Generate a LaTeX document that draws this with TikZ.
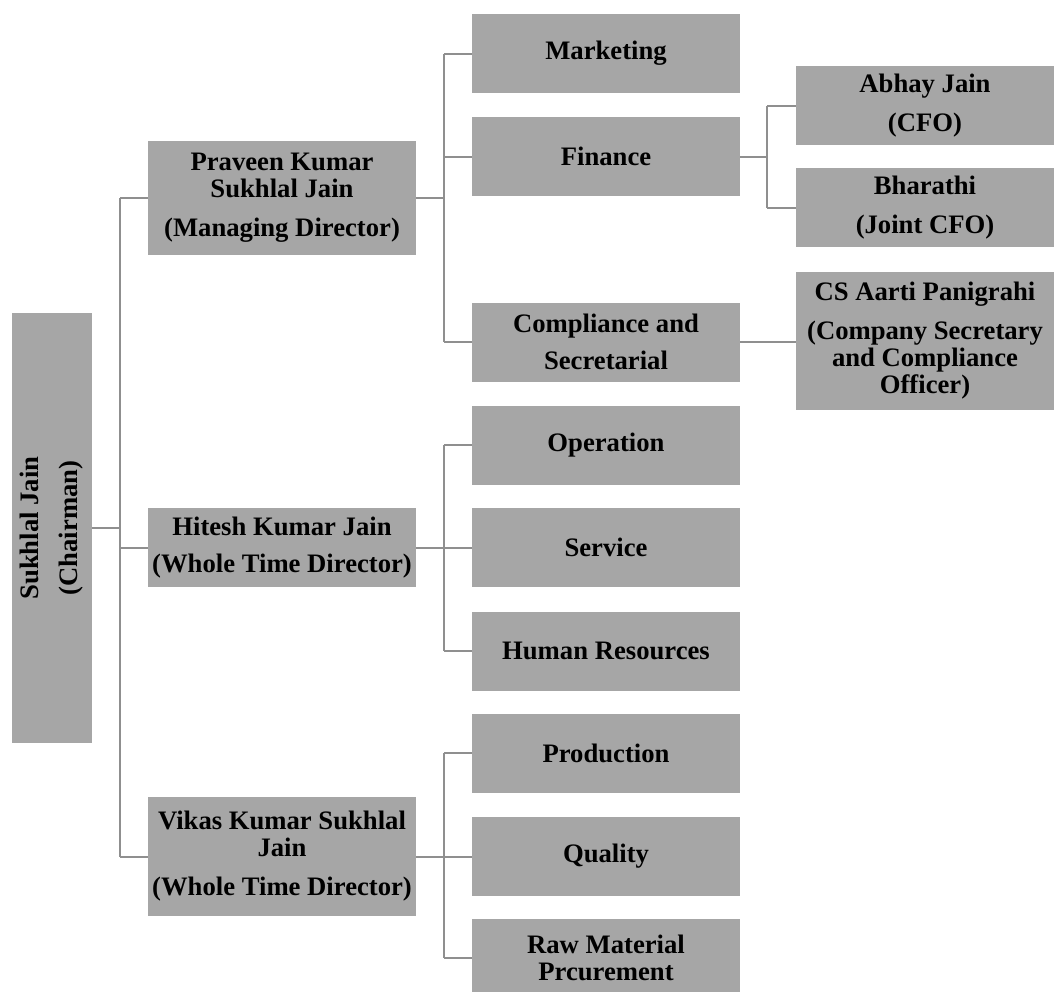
\documentclass[tikz,border=0pt]{standalone}
\usepackage{fontspec}
\setmainfont{Liberation Serif}
\begin{document}
\definecolor{boxgray}{HTML}{A6A6A6}
\definecolor{linkgray}{HTML}{8F8F8F}
\begin{tikzpicture}[x=0.75pt,y=-0.75pt,
  box/.style={fill=boxgray,inner sep=0pt,align=center,
    font=\fontsize{20}{20.25}\selectfont\bfseries},
  lvltwo/.style={box,minimum width=201pt},
  lvlthree/.style={box,minimum width=201pt,minimum height=59.25pt},
  lvlfour/.style={box,minimum width=193.5pt,minimum height=59.25pt},
  link/.style={draw=linkgray,line width=1.5pt}]
\useasboundingbox (0,0) rectangle (1054,992);

% chairman
\node[box,rotate=90,minimum width=322.5pt,minimum height=60pt] (chair) at (52,528)
  {Sukhlal Jain\\[9pt](Chairman)};

% directors
\node[lvltwo,minimum height=85.5pt] (prav) at (282,198)
  {Praveen Kumar\\Sukhlal Jain\\[9pt](Managing Director)};
\node[lvltwo,minimum height=59.25pt] (hit) at (282,547.5)
  {Hitesh Kumar Jain\\[8pt](Whole Time Director)};
\node[lvltwo,minimum height=89.25pt] (vik) at (282,856.5)
  {Vikas Kumar Sukhlal\\Jain\\[9pt](Whole Time Director)};

% departments
\node[lvlthree] (mkt) at (606,53.5) {Marketing};
\node[lvlthree] (fin) at (606,156.5) {Finance};
\node[lvlthree] (comp) at (606,342) {Compliance and\\[8pt]Secretarial};
\node[lvlthree] (ops) at (606,445) {Operation};
\node[lvlthree] (svc) at (606,547.5) {Service};
\node[lvlthree] (hr) at (606,651) {Human Resources};
\node[lvlthree] (prod) at (606,753) {Production};
\node[lvlthree] (qual) at (606,856.5) {Quality};
\node[lvlthree] (raw) at (606,958) {Raw Material\\Prcurement};

% officers
\node[lvlfour] (cfo) at (925,105.5) {Abhay Jain\\[9pt](CFO)};
\node[lvlfour] (jcfo) at (925,207.5) {Bharathi\\[9pt](Joint CFO)};
\node[lvlfour,minimum height=103.5pt] (cs) at (925,341)
  {CS Aarti Panigrahi\\[9pt](Company Secretary\\and Compliance\\Officer)};

% connector spines
\coordinate (t1) at (120,0);
\coordinate (t2) at (444,0);
\coordinate (t3) at (767,0);

% chairman to directors
\draw[link] (chair.south) -- (chair.south -| t1);
\draw[link] (prav.west -| t1) -- (vik.west -| t1);
\foreach \n in {prav,hit,vik}
  \draw[link] (\n.west -| t1) -- (\n.west);

% directors to departments
\draw[link] (prav.east) -- (prav.east -| t2);
\draw[link] (mkt.west -| t2) -- (comp.west -| t2);
\foreach \n in {mkt,fin,comp}
  \draw[link] (\n.west -| t2) -- (\n.west);

\draw[link] (hit.east) -- (hit.east -| t2);
\draw[link] (ops.west -| t2) -- (hr.west -| t2);
\foreach \n in {ops,svc,hr}
  \draw[link] (\n.west -| t2) -- (\n.west);

\draw[link] (vik.east) -- (vik.east -| t2);
\draw[link] (prod.west -| t2) -- (raw.west -| t2);
\foreach \n in {prod,qual,raw}
  \draw[link] (\n.west -| t2) -- (\n.west);

% departments to officers
\draw[link] (fin.east) -- (fin.east -| t3);
\draw[link] (cfo.west -| t3) -- (jcfo.west -| t3);
\foreach \n in {cfo,jcfo}
  \draw[link] (\n.west -| t3) -- (\n.west);
\draw[link] (comp.east) -- (cs.west |- comp.east);
\end{tikzpicture}
\end{document}
